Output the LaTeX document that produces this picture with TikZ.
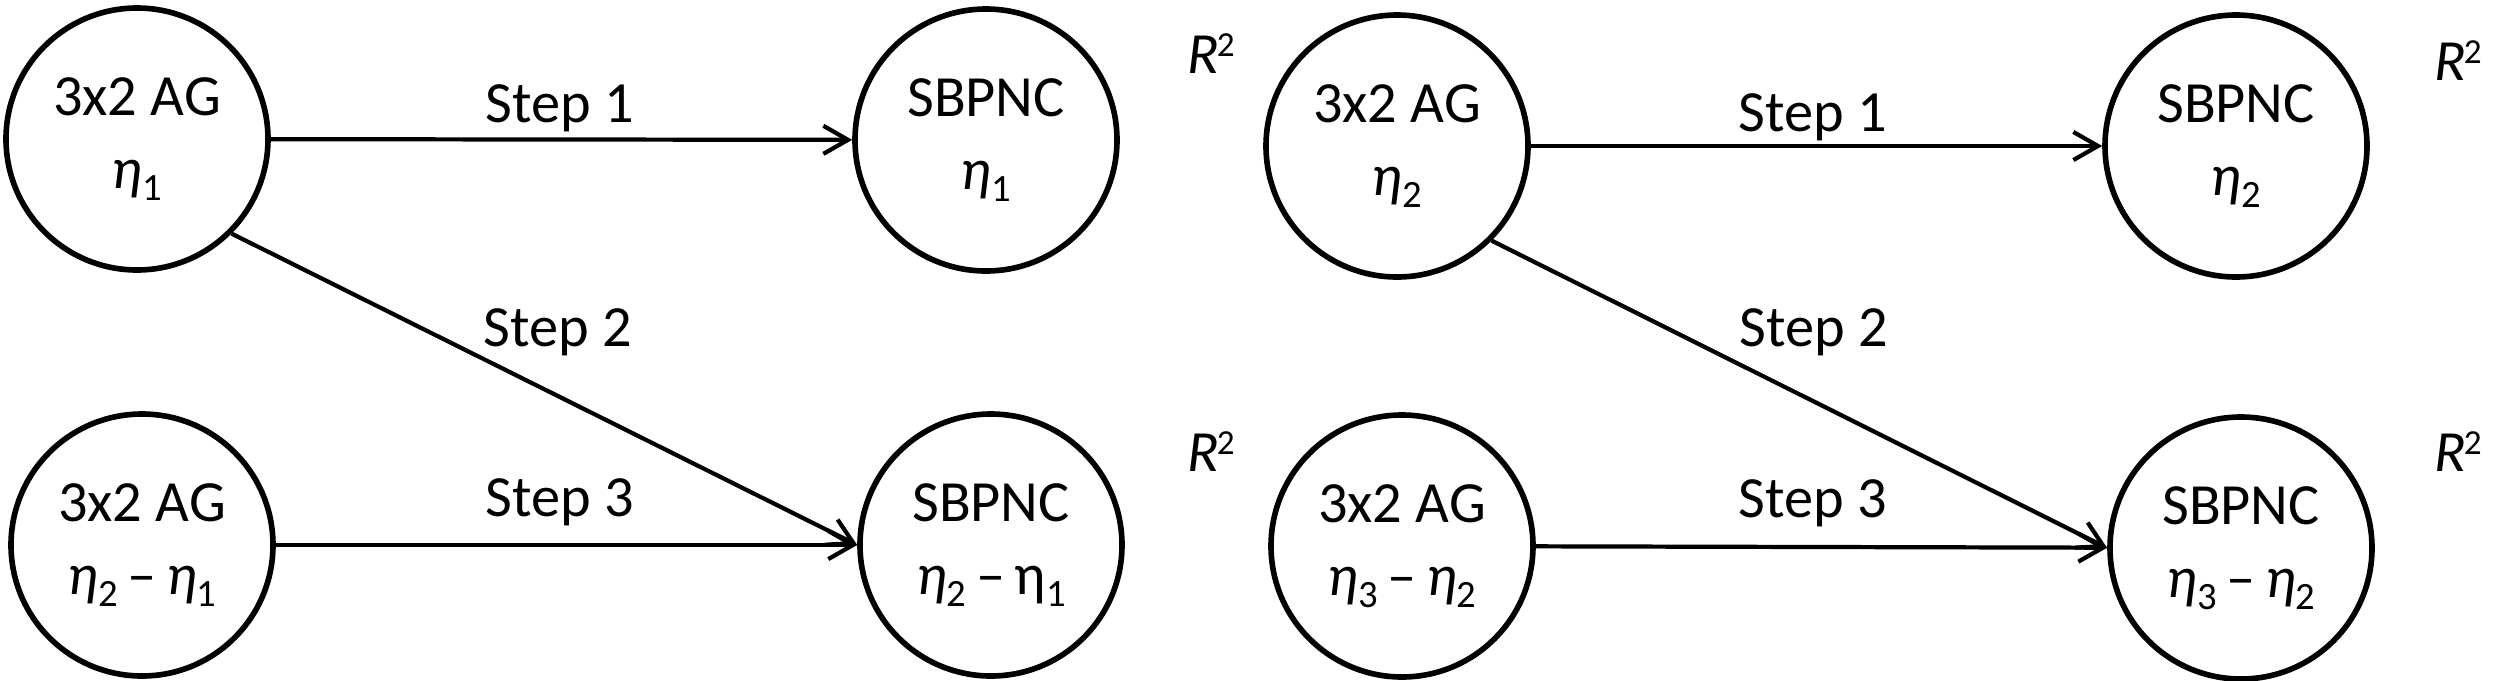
\documentclass[tikz,border=0pt]{standalone}
\usepackage{fontspec}
\setmainfont{Carlito}
\usetikzlibrary{arrows.meta}
\newcommand{\myeta}[1]{{\itshape η}\raisebox{-0.2em}{\fontsize{11}{11}\selectfont #1}}
\newcommand{\upeta}[1]{η\raisebox{-0.2em}{\fontsize{11}{11}\selectfont #1}}
\newcommand{\mdash}{\,–\,}
\newcommand{\rsq}{{\itshape R}\kern-0.6pt\raisebox{4.8pt}{\fontsize{10}{10}\selectfont 2}}
\begin{document}
\begin{tikzpicture}[x=0.1mm,y=-0.1mm,
  stage/.style={circle,draw,line width=1.6pt,minimum size=26.2mm,inner sep=0pt,
    align=center,font=\fontsize{16.6}{20.8}\selectfont},
  conn/.style={line width=1.2pt,-{Straight Barb[length=7pt,width=8pt]}},
  steplabel/.style={font=\fontsize{16.6}{20}\selectfont,inner sep=0pt},
  rlabel/.style={font=\fontsize{16.6}{18}\selectfont,inner sep=0pt}]
\useasboundingbox (0,0) rectangle (2500,680);
% left group
\node[stage] (A1) at (137,139) {3x2 AG\\\myeta{1}};
\node[stage] (B1) at (986,140) {SBPNC\\\myeta{1}};
\node[stage] (A2) at (142,545) {3x2 AG\\\myeta{2}\mdash\myeta{1}};
\node[stage] (B2) at (991,545) {SBPNC\\\myeta{2}\mdash\upeta{1}};
% right group
\node[stage] (A3) at (1397,146) {3x2 AG\\\myeta{2}};
\node[stage] (B3) at (2236,146) {SBPNC\\\myeta{2}};
\node[stage] (A4) at (1402,546) {3x2 AG\\\myeta{3}\mdash\myeta{2}};
\node[stage] (B4) at (2241,548) {SBPNC\\\myeta{3}\mdash\myeta{2}};
% connectors
\draw[conn] (A1) -- (B1);
\draw[conn] (A1.south east) -- (B2.west);
\draw[conn] (A2) -- (B2);
\draw[conn] (A3) -- (B3);
\draw[conn] (A3.south east) -- (B4.west);
\draw[conn] (A4) -- (B4);
% step labels
\node[steplabel] (s1l) at (560,108) {Step 1};
\node[steplabel] (s2l) at (558,332) {Step 2};
\node[steplabel] (s3l) at (560,502) {Step 3};
\node[steplabel] (s1r) at (1813,117) {Step 1};
\node[steplabel] (s2r) at (1814,332) {Step 2};
\node[steplabel] (s3r) at (1813,503) {Step 3};
% R^2 labels
\node[rlabel] (r1) at (1211,54) {\rsq};
\node[rlabel] (r2) at (1211,452) {\rsq};
\node[rlabel] (r3) at (2458,61) {\rsq};
\node[rlabel] (r4) at (2458,452) {\rsq};
\end{tikzpicture}
\end{document}
